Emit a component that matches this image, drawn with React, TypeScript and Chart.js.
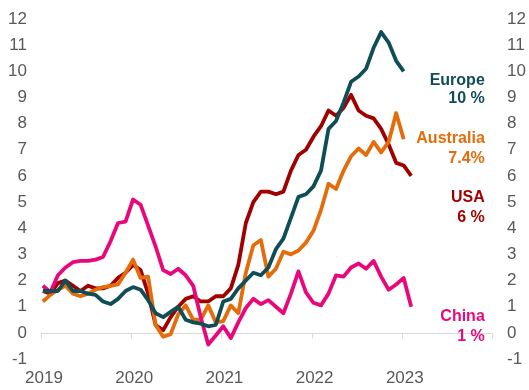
import React, { useEffect, useRef } from 'react';
import { Chart, registerables } from 'chart.js';

Chart.register(...registerables);

// Monthly observations starting January 2019
const startYear = 2019;
const yearTicks = [2019, 2020, 2021, 2022, 2023, 2024];

const europe = [1.6, 1.6, 1.6, 2.0, 1.6, 1.6, 1.5, 1.45, 1.2, 1.1, 1.3, 1.6, 1.75, 1.65, 1.25, 0.75, 0.6, 0.8, 1.0, 0.5, 0.4, 0.35, 0.25, 0.3, 1.2, 1.3, 1.7, 2.0, 2.3, 2.2, 2.5, 3.2, 3.6, 4.4, 5.2, 5.3, 5.6, 6.2, 7.8, 8.1, 8.8, 9.6, 9.8, 10.1, 10.9, 11.5, 11.1, 10.4, 10.0];
const australia = [1.2, 1.45, 1.65, 1.8, 1.5, 1.4, 1.5, 1.65, 1.75, 1.8, 1.85, 2.3, 2.8, 2.1, 2.15, 0.3, -0.15, -0.05, 0.7, 1.05, 0.5, 0.5, 1.05, 0.4, 0.45, 1.05, 0.75, 2.3, 3.35, 3.55, 2.15, 2.45, 3.1, 3.0, 3.15, 3.45, 3.9, 4.7, 5.7, 5.5, 6.2, 6.75, 7.05, 6.8, 7.3, 6.9, 7.3, 8.4, 7.4];
const usa = [1.6, 1.5, 1.9, 2.0, 1.8, 1.6, 1.8, 1.7, 1.7, 1.8, 2.1, 2.3, 2.6, 2.4, 1.5, 0.3, 0.1, 0.6, 1.0, 1.3, 1.4, 1.2, 1.2, 1.4, 1.4, 1.7, 2.6, 4.2, 5.0, 5.4, 5.4, 5.3, 5.4, 6.2, 6.8, 7.0, 7.5, 7.9, 8.5, 8.3, 8.6, 9.1, 8.5, 8.3, 8.2, 7.8, 7.2, 6.5, 6.4, 6.0];
const china = [1.8, 1.55, 2.2, 2.5, 2.7, 2.75, 2.75, 2.8, 2.9, 3.5, 4.2, 4.25, 5.1, 4.9, 4.1, 3.3, 2.4, 2.25, 2.45, 2.2, 1.8, 0.6, -0.45, -0.1, 0.25, -0.2, 0.4, 0.95, 1.3, 1.1, 1.25, 1.0, 0.75, 1.5, 2.35, 1.55, 1.15, 1.05, 1.5, 2.2, 2.15, 2.5, 2.65, 2.45, 2.75, 2.15, 1.65, 1.85, 2.1, 1.0];

const names = ['Europe', 'Australia', 'USA', 'China'];
const latestLabels = ['10 %', '7.4%', '6 %', '1 %'];
const colors = ['#0F4D57', '#E46C0A', '#A00000', '#E8087C'];

const FONT = "'Liberation Sans', Arial, sans-serif";
const GREY = '#595959';

const toPoints = (vals: number[]) =>
  vals.map((v, i) => ({ x: startYear + (i + 0.25) / 12, y: v }));

// label anchor values (in y-axis units) for the two lines of each series label
const labelAnchors = [
  [9.63, 8.94],
  [7.41, 6.65],
  [5.16, 4.39],
  [0.61, -0.15],
];

const zeroAxisPlugin = {
  id: 'zeroAxis',
  beforeDatasetsDraw(chart: any) {
    const { ctx, chartArea, scales } = chart;
    const y0 = Math.round(scales.y.getPixelForValue(0)) + 0.5;
    ctx.save();
    ctx.strokeStyle = '#D9D9D9';
    ctx.lineWidth = 1;
    ctx.beginPath();
    ctx.moveTo(chartArea.left, y0);
    ctx.lineTo(chartArea.right, y0);
    yearTicks.forEach((yr) => {
      const x = Math.round(scales.x.getPixelForValue(yr)) + 0.5;
      ctx.moveTo(x, y0);
      ctx.lineTo(x, y0 + 5);
    });
    ctx.stroke();
    ctx.restore();
  },
};

const seriesLabelPlugin = {
  id: 'seriesLabels',
  afterDatasetsDraw(chart: any) {
    const { ctx, scales } = chart;
    const xRight = scales.x.getPixelForValue(2023.92);
    ctx.save();
    ctx.font = `bold 16px ${FONT}`;
    ctx.textAlign = 'right';
    ctx.textBaseline = 'middle';
    names.forEach((n, i) => {
      ctx.fillStyle = colors[i];
      ctx.fillText(n, xRight, scales.y.getPixelForValue(labelAnchors[i][0]));
      ctx.fillText(latestLabels[i], xRight, scales.y.getPixelForValue(labelAnchors[i][1]));
    });
    ctx.restore();
  },
};

export default function App() {
  const ref = useRef<HTMLCanvasElement>(null);
  useEffect(() => {
    if (!ref.current) return;
    const series = [europe, australia, usa, china];
    const order = [0, 3, 1, 2];
    const tickFont = { size: 17, family: FONT };
    const chart = new Chart(ref.current, {
      type: 'line',
      data: {
        datasets: order.map((k) => ({
          label: names[k],
          data: toPoints(series[k]),
          borderColor: colors[k],
          backgroundColor: colors[k],
          borderWidth: 3.8,
          pointRadius: 0,
          tension: 0,
          fill: false,
          borderJoinStyle: 'round' as const,
        })),
      },
      options: {
        responsive: false,
        animation: false,
        layout: { autoPadding: false, padding: { top: 19, left: 0, right: 0, bottom: 0 } },
        plugins: { legend: { display: false }, tooltip: { enabled: false } },
        scales: {
          x: {
            type: 'linear',
            min: 2019,
            max: 2024,
            grid: { display: false, drawTicks: false },
            border: { display: false },
            afterBuildTicks: (s: any) => {
              s.ticks = yearTicks.map((v) => ({ value: v }));
            },
            ticks: {
              autoSkip: false,
              maxRotation: 0,
              padding: 9,
              labelOffset: 3,
              color: GREY,
              font: tickFont,
              callback: (v: any) => (v === 2024 ? '' : String(v)),
            },
            afterFit: (s: any) => {
              s.height = 31;
            },
          },
          y: {
            position: 'left',
            min: -1,
            max: 12,
            grid: { display: false, drawTicks: true, tickLength: 14 },
            border: { display: false },
            ticks: { stepSize: 1, padding: 0, color: GREY, font: tickFont },
            afterFit: (s: any) => {
              s.width = 41;
            },
          },
          y2: {
            position: 'right',
            min: -1,
            max: 12,
            grid: { display: false, drawTicks: true, tickLength: 15 },
            border: { display: false },
            ticks: { stepSize: 1, padding: 0, color: GREY, font: tickFont },
            afterFit: (s: any) => {
              s.width = 37;
            },
          },
        },
      },
      plugins: [zeroAxisPlugin, seriesLabelPlugin],
    } as any);
    return () => chart.destroy();
  }, []);
  return (
    <div style={{ position: 'fixed', left: 0, top: 0, width: 529, height: 390, background: '#fff' }}>
      <canvas ref={ref} width={529} height={390} />
    </div>
  );
}
